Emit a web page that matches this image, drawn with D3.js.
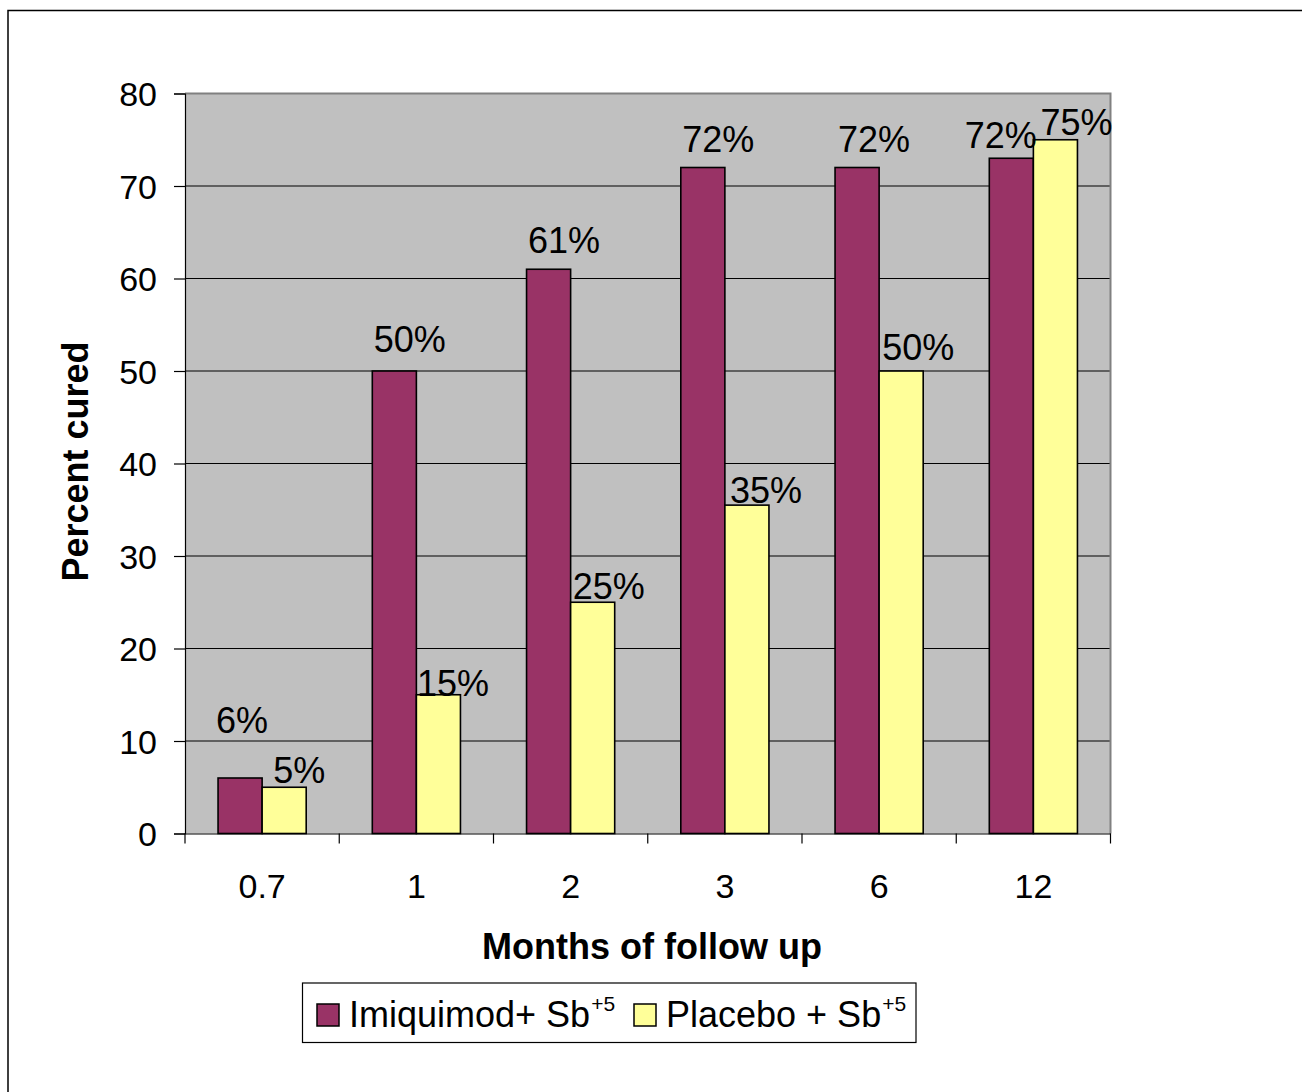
<!DOCTYPE html>
<html>
<head>
<meta charset="utf-8">
<script src="https://cdn.jsdelivr.net/npm/d3@7"></script>
<style>
  html, body { margin: 0; padding: 0; background: #fff; }
  svg { display: block; }
  text { font-family: "Liberation Sans", Arial, Helvetica, sans-serif; fill: #000; }
</style>
</head>
<body>
<svg id="chart" width="1302" height="1092"></svg>
<script>
// ---- data ----
const categories = ["0.7", "1", "2", "3", "6", "12"];
const seriesNames = ["Imiquimod+ Sb", "Placebo + Sb"];
const seriesSup = ["+5", "+5"];
const imiquimod = [6, 50, 61, 72, 72, 73];
const placebo = [5, 15, 25, 35.5, 50, 75];
const imiquimodLabels = ["6%", "50%", "61%", "72%", "72%", "72%"];
const placeboLabels = ["5%", "15%", "25%", "35%", "50%", "75%"];
const yTicks = [0, 10, 20, 30, 40, 50, 60, 70, 80];
const yTitle = "Percent cured";
const xTitle = "Months of follow up";

// ---- layout ----
const colors = ["#993366", "#FFFF99"];
const svg = d3.select("#chart");
const plot = { left: 185, right: 1110.5, top: 93.5, bottom: 833.5 };

// outer frame (extends past the right and bottom edges)
svg.append("rect")
  .attr("x", 8).attr("y", 10.5)
  .attr("width", 1400).attr("height", 1200)
  .attr("fill", "#fff").attr("stroke", "#000").attr("stroke-width", 1.5);

const x = d3.scaleBand().domain(categories).range([plot.left, plot.right]).paddingInner(0).paddingOuter(0);
const xs = d3.scaleBand().domain([0, 1]).range([0, x.bandwidth()]).paddingInner(0).paddingOuter(0.75);
const y = d3.scaleLinear().domain([0, 80]).range([plot.bottom, plot.top]);

// plot background
svg.append("rect")
  .attr("x", plot.left).attr("y", plot.top)
  .attr("width", plot.right - plot.left).attr("height", plot.bottom - plot.top)
  .attr("fill", "#C0C0C0");

// gridlines
svg.append("g").selectAll("line")
  .data(yTicks.filter(d => d > 0 && d < 80))
  .join("line")
  .attr("x1", plot.left).attr("x2", plot.right)
  .attr("y1", d => y(d)).attr("y2", d => y(d))
  .attr("stroke", "#000").attr("stroke-width", 1);

// plot border top/right (grey)
svg.append("path")
  .attr("d", `M${plot.left},${plot.top}H${plot.right}V${plot.bottom}`)
  .attr("fill", "none").attr("stroke", "#808080").attr("stroke-width", 2);

// y axis
const yAxis = d3.axisLeft(y).tickValues(yTicks).tickSize(11).tickPadding(17).tickFormat(d3.format("d"));
const gy = svg.append("g").attr("transform", `translate(${plot.left},0)`).call(yAxis);
gy.select(".domain").attr("stroke", "#000").attr("stroke-width", 1.2);
gy.selectAll(".tick line").attr("stroke", "#000").attr("stroke-width", 1.2);
gy.selectAll(".tick text").attr("font-size", 34).attr("dy", "0.36em")
  .style("font-family", '"Liberation Sans", Arial, sans-serif');

// x axis: ticks at category boundaries
const xAxis = d3.axisBottom(x).tickSize(0).tickPadding(40);
const gx = svg.append("g").attr("transform", `translate(0,${plot.bottom})`).call(xAxis);
gx.select(".domain").attr("stroke", "#000").attr("stroke-width", 1.2);
gx.selectAll(".tick text").attr("font-size", 34)
  .style("font-family", '"Liberation Sans", Arial, sans-serif');
const boundaries = categories.map(c => x(c)).concat([x(categories[categories.length - 1]) + x.bandwidth()]);
gx.append("g").selectAll("line").data(boundaries).join("line")
  .attr("x1", d => d).attr("x2", d => d)
  .attr("y1", 0).attr("y2", 10)
  .attr("stroke", "#000").attr("stroke-width", 1.2);

// bars
const series = [imiquimod, placebo];
series.forEach((vals, si) => {
  svg.append("g").selectAll("rect")
    .data(vals.map((v, i) => ({ v, c: categories[i] })))
    .join("rect")
    .attr("x", d => x(d.c) + xs(si))
    .attr("y", d => y(d.v))
    .attr("width", xs.bandwidth())
    .attr("height", d => y(0) - y(d.v))
    .attr("fill", colors[si])
    .attr("stroke", "#000").attr("stroke-width", 1.6);
});

// value labels (label placement nudges relative to the bar top-centre)
const nudgeA = [[2, -45], [15.5, -19], [15.5, -16], [15.5, -16], [17, -16], [-10.5, -10]];
const nudgeB = [[15, -4], [14.5, 1], [16, -3], [19, -2], [17, -11], [21, -5]];
const labelSets = [imiquimodLabels, placeboLabels];
const nudges = [nudgeA, nudgeB];
series.forEach((vals, si) => {
  svg.append("g").selectAll("text")
    .data(vals.map((v, i) => ({ v, c: categories[i], t: labelSets[si][i], n: nudges[si][i] })))
    .join("text")
    .attr("x", d => x(d.c) + xs(si) + xs.bandwidth() / 2 + d.n[0])
    .attr("y", d => y(d.v) + d.n[1])
    .attr("text-anchor", "middle")
    .attr("font-size", 36)
    .text(d => d.t);
});

// axis titles
svg.append("text")
  .attr("transform", `translate(88,${(plot.top + plot.bottom) / 2 - 2}) rotate(-90)`)
  .attr("text-anchor", "middle")
  .attr("font-size", 36).attr("font-weight", "bold")
  .text(yTitle);

svg.append("text")
  .attr("x", 652).attr("y", 959)
  .attr("text-anchor", "middle")
  .attr("font-size", 36).attr("font-weight", "bold")
  .text(xTitle);

// legend
const lg = svg.append("g");
lg.append("rect").attr("x", 302.5).attr("y", 983).attr("width", 613.5).attr("height", 59.5)
  .attr("fill", "#fff").attr("stroke", "#000").attr("stroke-width", 1.2);
const legendX = [317, 634];
seriesNames.forEach((name, i) => {
  lg.append("rect").attr("x", legendX[i]).attr("y", 1004).attr("width", 22).attr("height", 22)
    .attr("fill", colors[i]).attr("stroke", "#000").attr("stroke-width", 1.5);
  const t = lg.append("text").attr("x", legendX[i] + 32).attr("y", 1027).attr("font-size", 36);
  t.append("tspan").text(name);
  t.append("tspan").attr("font-size", 21).attr("dx", 1).attr("dy", -16).text(seriesSup[i]);
});
</script>
</body>
</html>
